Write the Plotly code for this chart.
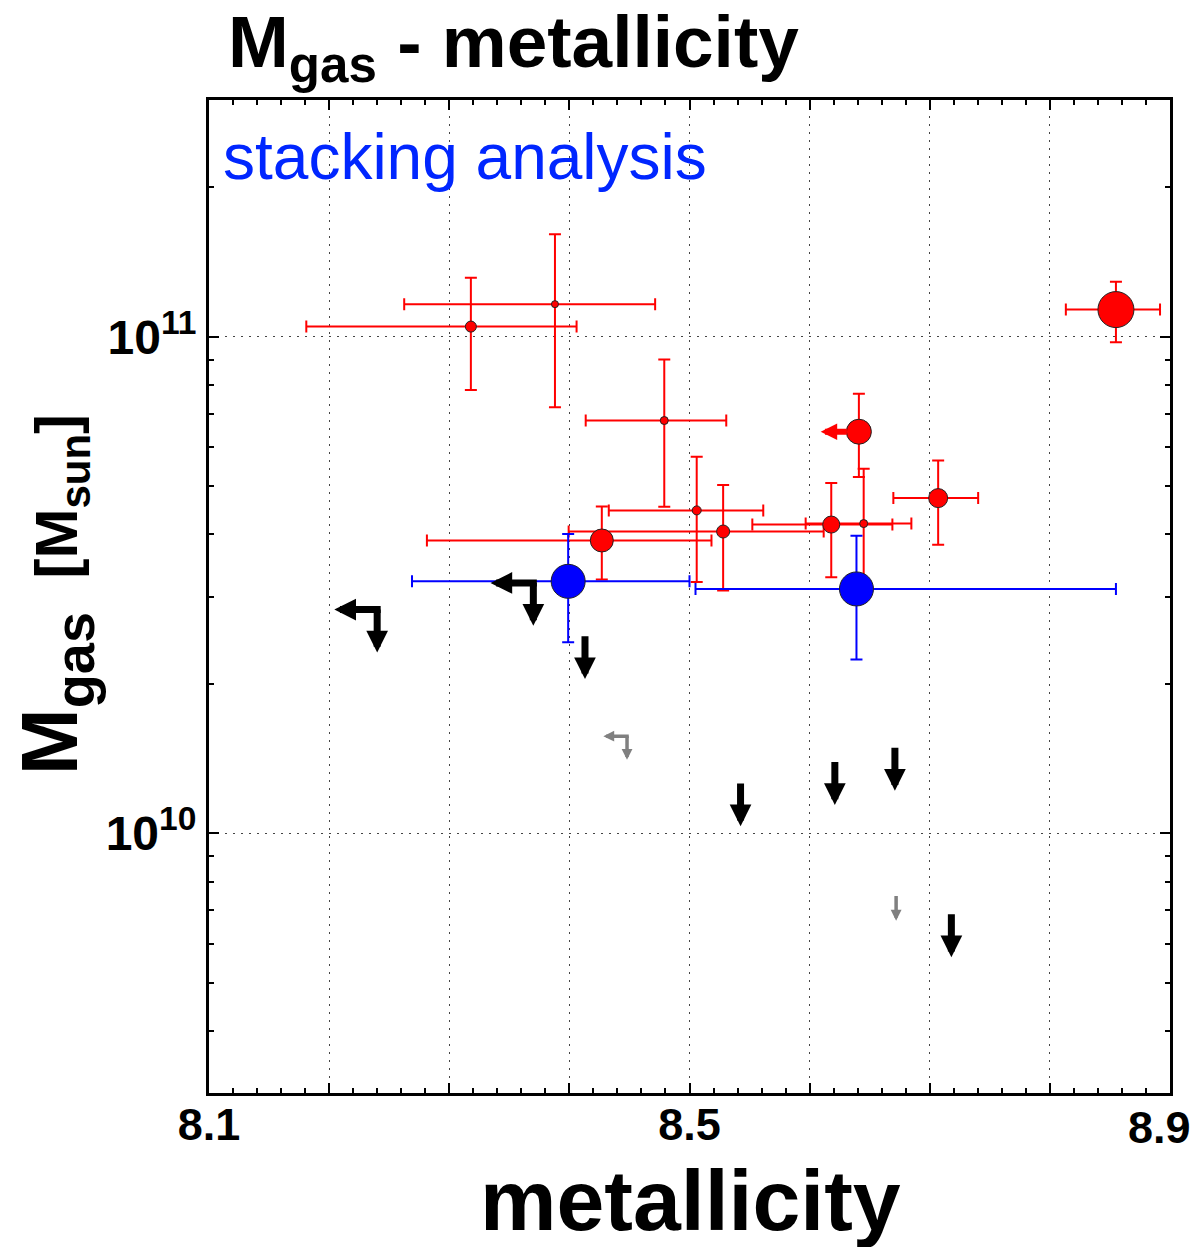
import numpy as np
import plotly.graph_objects as go

# ---------------- data ----------------
# red: individual detections (metallicity, gas mass) with error-bar ends
red_z = [8.318, 8.388, 8.479, 8.506, 8.427, 8.528, 8.618, 8.645, 8.707, 8.855]
red_z_lo = [8.181, 8.2625, 8.4136, 8.4328, 8.2814, 8.3994, 8.5523, 8.5967, 8.6697, 8.8133]
red_z_hi = [8.406, 8.4714, 8.5306, 8.5614, 8.5183, 8.6117, 8.6689, 8.6847, 8.7403, 8.8917]
red_m = [1.049e11, 1.164e11, 6.785e10, 4.472e10, 3.89e10, 4.055e10, 4.188e10, 4.207e10, 4.735e10, 1.135e11]
red_m_lo = [7.82e10, 7.22e10, 4.55e10, 3.21e10, 3.245e10, 3.083e10, 3.28e10, 3.17e10, 3.815e10, 9.76e10]
red_m_hi = [1.315e11, 1.609e11, 9.0e10, 5.735e10, 4.556e10, 5.03e10, 5.077e10, 5.425e10, 5.637e10, 1.292e11]

# red: detection with metallicity upper limit
redlim_z = [8.641]
redlim_m = [6.442e10]
redlim_m_lo = [5.221e10]
redlim_m_hi = [7.68e10]

# blue: stacking analysis
blue_z = [8.399, 8.639]
blue_z_lo = [8.269, 8.505]
blue_z_hi = [8.500, 8.855]
blue_m = [3.219e10, 3.107e10]
blue_m_lo = [2.426e10, 2.239e10]
blue_m_hi = [4.009e10, 3.977e10]

# black: upper limits (gas mass), some also metallicity upper limits
blk_both_z = [8.240, 8.370]
blk_both_m = [2.823e10, 3.195e10]
blk_down_z = [8.413, 8.5425, 8.621, 8.671, 8.718]
blk_down_m = [2.495e10, 1.261e10, 1.392e10, 1.487e10, 6.87e9]

# gray: upper limits
gry_both_z = [8.448]
gry_both_m = [1.570e10]
gry_down_z = [8.672]
gry_down_m = [7.48e9]

x_tick_vals = [8.1, 8.2, 8.3, 8.4, 8.5, 8.6, 8.7, 8.8, 8.9]
x_tick_text = ["8.1", "", "", "", "8.5", "", "", "", ""]
x_edge_label = (8.9, "8.9")
y_tick_vals = [1e10, 1e11]
y_tick_text = ["10<sup>10</sup>", "10<sup>11</sup>"]

# ---------------- styles ----------------
red_sizes = [11, 7, 8, 9, 23, 13, 17, 8, 19, 36]
redlim_sizes = [25]
blue_sizes = [34, 34]

FONT = "Liberation Sans, Arial, Helvetica, sans-serif"


def errs(v, lo, hi):
    v, lo, hi = map(np.asarray, (v, lo, hi))
    return (hi - v).tolist(), (v - lo).tolist()


fig = go.Figure()

ex_p, ex_m = errs(red_z, red_z_lo, red_z_hi)
ey_p, ey_m = errs(red_m, red_m_lo, red_m_hi)
fig.add_trace(go.Scatter(
    x=red_z, y=red_m, mode="markers",
    marker=dict(color="#ff0000", size=red_sizes, opacity=1, line=dict(color="#222", width=1)),
    error_x=dict(type="data", array=ex_p, arrayminus=ex_m, color="#ff0000", thickness=2, width=6),
    error_y=dict(type="data", array=ey_p, arrayminus=ey_m, color="#ff0000", thickness=2, width=6),
    showlegend=False, hoverinfo="skip"))

ey_p, ey_m = errs(redlim_m, redlim_m_lo, redlim_m_hi)
fig.add_trace(go.Scatter(
    x=redlim_z, y=redlim_m, mode="markers",
    marker=dict(color="#ff0000", size=redlim_sizes, opacity=1, line=dict(color="#222", width=1)),
    error_y=dict(type="data", array=ey_p, arrayminus=ey_m, color="#ff0000", thickness=2, width=6),
    showlegend=False, hoverinfo="skip"))

ex_p, ex_m = errs(blue_z, blue_z_lo, blue_z_hi)
ey_p, ey_m = errs(blue_m, blue_m_lo, blue_m_hi)
fig.add_trace(go.Scatter(
    x=blue_z, y=blue_m, mode="markers",
    marker=dict(color="#0000ff", size=blue_sizes, opacity=1, line=dict(color="#222", width=1)),
    error_x=dict(type="data", array=ex_p, arrayminus=ex_m, color="#0000ff", thickness=2, width=6),
    error_y=dict(type="data", array=ey_p, arrayminus=ey_m, color="#0000ff", thickness=2, width=6),
    showlegend=False, hoverinfo="skip"))

annotations = []


def arrow(z, m, direction, color, w, s, length, standoff=0, shift=0):
    head = 1.3 * w * s
    d = length - head
    a = dict(x=z, y=float(np.log10(m)), xref="x", yref="y", text="",
             showarrow=True, arrowside="start", startarrowhead=2, startarrowsize=s,
             arrowwidth=w, arrowcolor=color, axref="pixel", ayref="pixel",
             standoff=standoff)
    if direction == "down":
        a.update(ax=0, ay=d, yshift=shift)
    else:
        a.update(ax=-d - shift, ay=0, xshift=shift)
    annotations.append(a)


for z, m in zip(blk_both_z, blk_both_m):
    arrow(z, m, "left", "black", 7, 0.62, 50, shift=3.5)
    arrow(z, m, "down", "black", 7, 0.62, 50)
for z, m in zip(blk_down_z, blk_down_m):
    arrow(z, m, "down", "black", 7, 0.62, 50)
for z, m in zip(gry_both_z, gry_both_m):
    arrow(z, m, "left", "#808080", 3.5, 0.62, 28, shift=1.75)
    arrow(z, m, "down", "#808080", 3.5, 0.62, 28)
for z, m in zip(gry_down_z, gry_down_m):
    arrow(z, m, "down", "#808080", 3.5, 0.62, 29)
for z, m in zip(redlim_z, redlim_m):
    arrow(z, m, "left", "#ff0000", 6, 0.55, 44, standoff=12)

# text
W0, W1 = 209, 1170
H0, H1 = 100, 1093


def px(xp):
    return (xp - W0) / (W1 - W0)


def py(yp):
    return (H1 - yp) / (H1 - H0)


TICK_SIZE = 45
annotations += [
    dict(text="<b>M<sub>gas</sub> - metallicity</b>", xref="paper", yref="paper",
         x=px(226), y=py(47), xanchor="left", yanchor="middle", showarrow=False,
         font=dict(family=FONT, size=73, color="black")),
    dict(text="stacking analysis", xref="paper", yref="paper",
         x=px(221), y=py(157), xanchor="left", yanchor="middle", showarrow=False,
         font=dict(family=FONT, size=64, color="#0026ff")),
    dict(text="<b>metallicity</b>", xref="paper", yref="paper",
         x=px(690), y=py(1200), xanchor="center", yanchor="middle", showarrow=False,
         font=dict(family=FONT, size=86, color="black")),
    dict(text="<b><span style='font-size:80px'>M<sub>gas</sub></span>  [M<sub>sun</sub>]</b>",
         xref="paper", yref="paper", textangle=-90,
         x=px(55), y=py(595), xanchor="center", yanchor="middle", showarrow=False,
         font=dict(family=FONT, size=60, color="black")),
    # last x tick label, pulled inside the page like in the original
    dict(text="<b>%s</b>" % x_edge_label[1], xref="x", yref="paper",
         x=x_edge_label[0], y=py(1127), xanchor="right", yanchor="middle",
         xshift=1193 - W1, showarrow=False,
         font=dict(family=FONT, size=TICK_SIZE, color="black")),
]

grid_dash = "2px,6px"
fig.update_layout(
    width=1198, height=1247,
    margin=dict(l=W0, r=1198 - W1, t=H0, b=1247 - H1, autoexpand=False),
    paper_bgcolor="white", plot_bgcolor="white",
    annotations=annotations,
    font=dict(family=FONT, color="black"),
    xaxis=dict(
        range=[8.1, 8.9], tickmode="array", tickvals=x_tick_vals, ticktext=x_tick_text,
        ticks="inside", ticklen=10, tickwidth=1.5, tickcolor="black",
        showline=True, linewidth=3, linecolor="black", mirror="allticks",
        showgrid=True, gridcolor="#444", gridwidth=1.3, griddash=grid_dash,
        tickfont=dict(family=FONT, size=TICK_SIZE, color="black", weight="bold"),
        ticklabelstandoff=-10, ticklabeloverflow="allow", automargin=False,
        zeroline=False,
        minor=dict(tick0=8.1, dtick=0.02, ticks="inside", ticklen=5, tickwidth=1.5,
                   tickcolor="black", showgrid=False),
    ),
    yaxis=dict(
        type="log", range=[np.log10(3e9), np.log10(3e11)],
        tickmode="array", tickvals=y_tick_vals, ticktext=y_tick_text,
        ticks="inside", ticklen=10, tickwidth=1.5, tickcolor="black",
        showline=True, linewidth=3, linecolor="black", mirror="allticks",
        showgrid=True, gridcolor="#444", gridwidth=1.3, griddash=grid_dash,
        tickfont=dict(family=FONT, size=48, color="black", weight="bold"),
        ticklabeloverflow="allow", automargin=False,
        zeroline=False,
        minor=dict(tickvals=[k * 10 ** e for e in (9, 10, 11) for k in range(2, 10)
                             if 3e9 <= k * 10 ** e <= 3e11],
                   ticks="inside", ticklen=5, tickwidth=1.5, tickcolor="black", showgrid=False),
    ),
)

fig.write_html("out.html")
